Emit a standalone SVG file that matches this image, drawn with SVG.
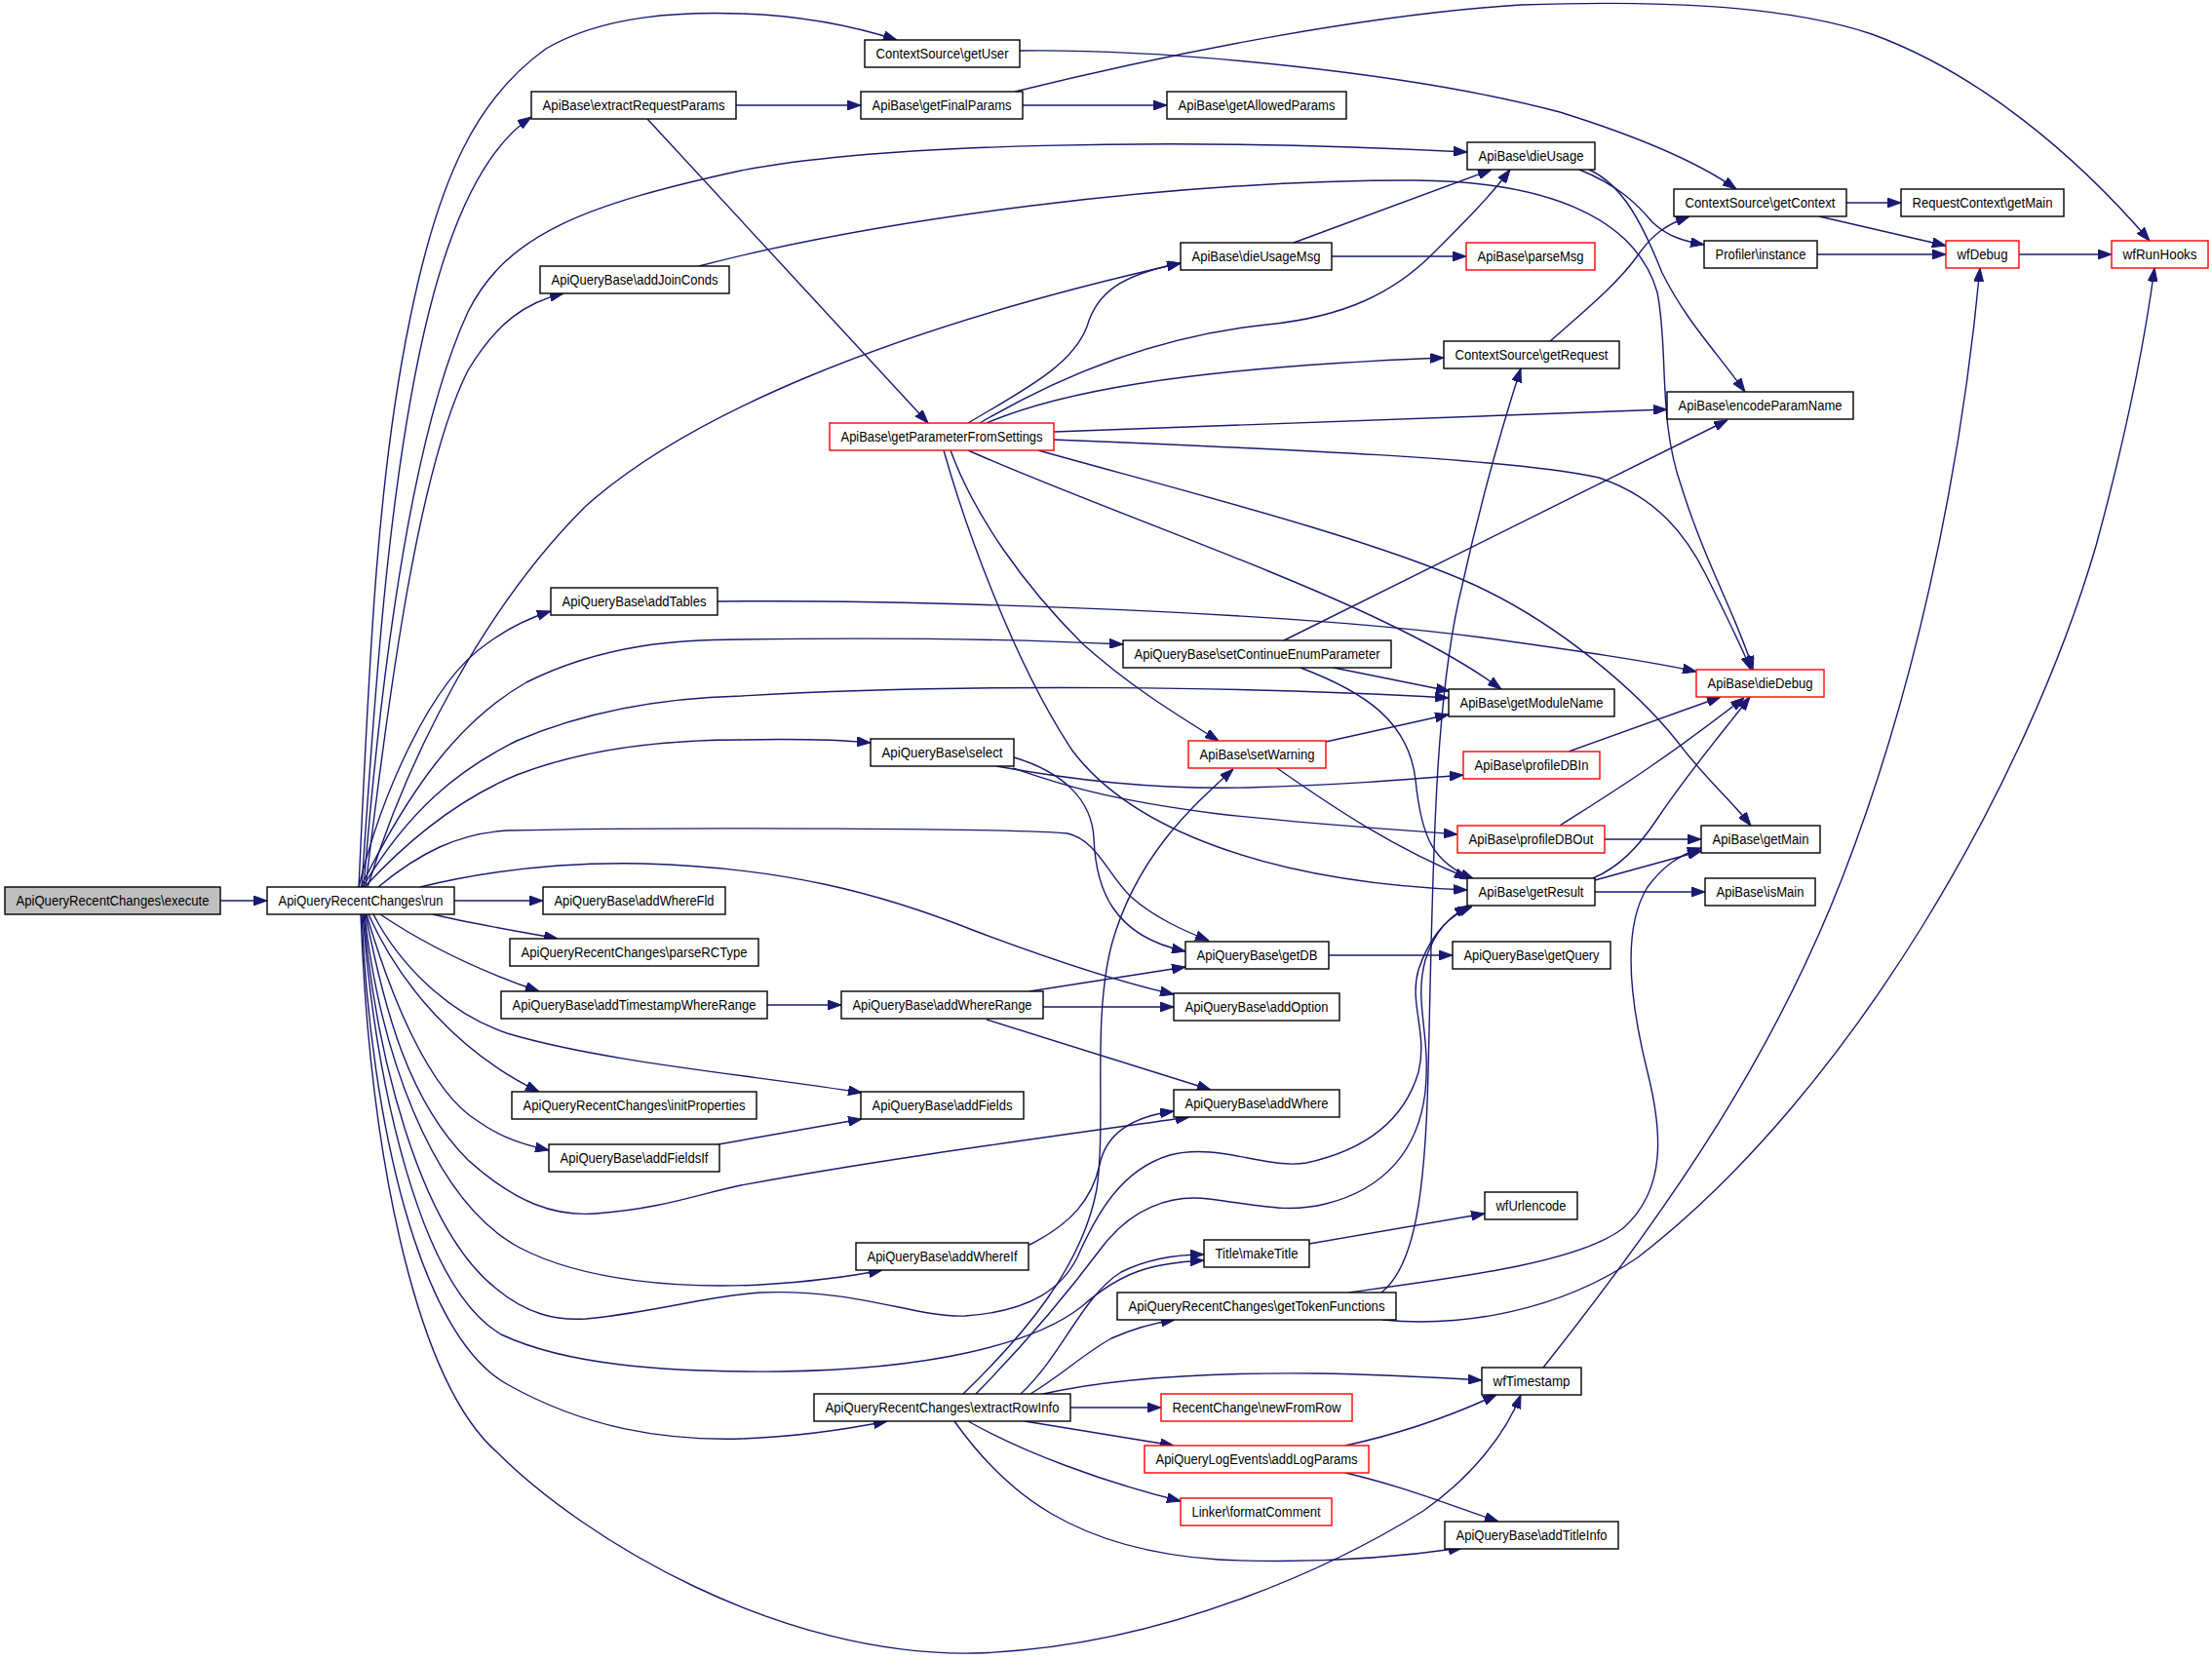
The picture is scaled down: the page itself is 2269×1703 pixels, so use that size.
<svg xmlns="http://www.w3.org/2000/svg" width="2269" height="1703" viewBox="0 0 2269 1703">
<style>
.n rect{fill:#fff;stroke:#000;stroke-width:1.4}
.n.r rect{stroke:#ff0000}
.n.g rect{fill:#bfbfbf}
.n text{font-family:"Liberation Sans",Arial,Helvetica,sans-serif;font-size:14px;fill:#000;text-anchor:middle}
#edges path{fill:none;stroke:#191970;stroke-width:1.4;marker-end:url(#ah)}
</style>
<defs>
<marker id="ah" markerUnits="userSpaceOnUse" markerWidth="14" markerHeight="10" refX="14" refY="5" orient="auto">
<path d="M0,0 L14,5 L0,10 Z" fill="#191970" stroke="#191970" stroke-width="1"/>
</marker>
</defs>
<rect width="2269" height="1703" fill="#fff"/>
<g id="edges">
<path d="M226,924 L274,924"/>
<path d="M368,910 C378,700 385,500 420,330 C450,180 490,100 560,50 C620,15 700,12 760,14 C820,16 870,25 920,41"/>
<path d="M371,910 C385,700 400,480 440,320 C465,220 500,150 545,120"/>
<path d="M373,910 C390,700 420,450 480,320 C520,240 600,210 760,175 C900,148 1200,140 1505,156"/>
<path d="M375,910 C400,700 430,480 480,380 C510,330 540,310 578,301"/>
<path d="M377,910 C420,770 500,620 600,520 C700,430 900,340 1211,270"/>
<path d="M368,910 C390,820 440,700 500,660 C520,645 540,635 565,627"/>
<path d="M370,910 C420,810 470,740 540,700 C620,660 700,656 760,656 C900,654 1050,656 1152,661"/>
<path d="M372,910 C420,830 470,790 530,760 C600,730 680,716 760,714 C1000,700 1300,705 1486,716"/>
<path d="M374,910 C420,860 470,820 530,795 C600,768 680,759 760,759 C810,758 860,759 893,762"/>
<path d="M388,910 C430,875 470,855 520,852 C700,848 1050,850 1095,855 C1125,862 1135,895 1160,920 C1185,942 1215,955 1240,965"/>
<path d="M431,910 C480,898 560,884 660,886 C800,890 900,915 1000,955 C1080,985 1150,1008 1204,1020"/>
<path d="M466,924 L557,924"/>
<path d="M444,938 C480,947 530,955 572,963"/>
<path d="M390,938 C430,965 480,992 553,1017"/>
<path d="M383,938 C410,990 460,1040 520,1060 C620,1090 780,1104 884,1121"/>
<path d="M378,938 C410,1010 470,1080 553,1120"/>
<path d="M376,938 C400,1020 440,1120 490,1150 C515,1168 540,1175 563,1180"/>
<path d="M375,938 C395,1040 420,1130 480,1190 C530,1235 570,1248 611,1245 C680,1240 720,1224 760,1216 C900,1190 1050,1170 1220,1146"/>
<path d="M373,938 C385,1080 430,1260 509,1322 C540,1348 570,1355 601,1353 C680,1345 720,1330 780,1326 C880,1322 940,1352 990,1350 C1060,1345 1090,1320 1105,1290 C1125,1245 1150,1200 1200,1185 C1250,1172 1300,1200 1340,1193 C1400,1180 1440,1150 1455,1100 C1465,1060 1445,1030 1455,995 C1465,965 1480,945 1506,929"/>
<path d="M374,938 C388,1070 440,1230 533,1280 C600,1315 700,1322 780,1318 C830,1315 870,1310 905,1303"/>
<path d="M372,938 C385,1110 430,1320 514,1369 C580,1400 680,1408 800,1407 C950,1405 1060,1380 1110,1340 C1150,1305 1180,1296 1235,1293"/>
<path d="M371,938 C380,1150 430,1370 520,1420 C600,1465 680,1478 760,1476 C820,1474 870,1466 910,1458"/>
<path d="M370,938 C380,1200 430,1420 510,1490 C600,1580 800,1700 1000,1696 C1200,1690 1380,1600 1460,1550 C1510,1515 1545,1470 1560,1431"/>
<path d="M755,108 L883,108"/>
<path d="M664,122 L952,434"/>
<path d="M1049,108 L1197,108"/>
<path d="M1041,94 C1200,55 1400,15 1560,5 C1700,0 1830,5 1920,35 C2030,75 2130,160 2205,247"/>
<path d="M1046,52 C1200,50 1450,75 1600,115 C1680,140 1740,165 1781,194"/>
<path d="M1327,249 L1530,174"/>
<path d="M1366,263 L1504,263"/>
<path d="M993,434 C1050,400 1100,375 1115,335 C1125,300 1150,282 1211,270"/>
<path d="M1005,434 C1080,390 1180,345 1300,333 C1380,325 1430,300 1470,260 C1500,230 1530,200 1549,174"/>
<path d="M1012,434 C1080,405 1200,378 1481,367"/>
<path d="M1081,443 L1710,420"/>
<path d="M1081,451 C1300,460 1550,470 1640,490 C1700,510 1730,550 1750,590 C1770,630 1785,660 1796,687"/>
<path d="M1065,462 C1200,500 1400,550 1510,599 C1600,640 1680,710 1720,760 C1750,800 1775,820 1796,847"/>
<path d="M993,462 C1100,510 1300,580 1420,638 C1470,662 1510,685 1540,707"/>
<path d="M975,462 C1000,530 1050,600 1110,660 C1160,705 1210,735 1250,760"/>
<path d="M968,462 C990,540 1040,680 1100,770 C1160,850 1300,905 1505,913"/>
<path d="M1590,350 C1630,315 1660,290 1680,262 C1695,240 1710,230 1733,222"/>
<path d="M1894,208 L1950,208"/>
<path d="M1866,222 L1996,252"/>
<path d="M1864,261 L1996,261"/>
<path d="M2071,261 L2166,261"/>
<path d="M1620,174 C1660,190 1680,210 1695,228 C1710,242 1725,247 1748,251"/>
<path d="M1630,174 C1665,190 1685,230 1705,280 C1730,330 1760,360 1790,402"/>
<path d="M717,273 C900,225 1200,185 1450,185 C1600,186 1680,230 1700,300 C1712,360 1700,430 1725,500 C1750,580 1785,640 1798,687"/>
<path d="M736,617 C900,615 1300,625 1520,654 C1620,668 1690,678 1740,689"/>
<path d="M1317,657 L1772,431"/>
<path d="M1368,685 L1487,709"/>
<path d="M1334,685 C1400,710 1445,740 1452,800 C1458,860 1470,885 1512,902"/>
<path d="M1360,761 L1486,733"/>
<path d="M1310,788 C1370,830 1430,870 1506,901"/>
<path d="M1609,771 L1765,715"/>
<path d="M1600,847 C1650,815 1700,785 1789,716"/>
<path d="M1646,861 L1745,861"/>
<path d="M1634,901 C1660,890 1680,870 1700,840 C1730,795 1760,760 1795,715"/>
<path d="M1636,903 L1745,873"/>
<path d="M1636,915 L1749,915"/>
<path d="M1022,786 C1100,800 1180,810 1280,808 C1380,805 1440,800 1501,795"/>
<path d="M1039,788 C1080,802 1130,820 1250,835 C1350,846 1420,850 1495,856"/>
<path d="M1040,777 C1090,792 1120,820 1122,860 C1124,910 1140,960 1216,976"/>
<path d="M1362,980 L1490,980"/>
<path d="M787,1031 L863,1031"/>
<path d="M1056,1017 L1216,992"/>
<path d="M1070,1033 L1204,1033"/>
<path d="M1012,1046 L1242,1118"/>
<path d="M737,1174 L884,1148"/>
<path d="M1056,1277 C1100,1255 1120,1230 1128,1195 C1135,1160 1165,1145 1204,1140"/>
<path d="M1343,1276 L1523,1245"/>
<path d="M1417,1326 C1450,1300 1462,1230 1465,1100 C1470,900 1470,720 1500,600 C1520,510 1540,440 1560,378"/>
<path d="M1383,1326 C1500,1310 1620,1295 1665,1260 C1710,1220 1705,1160 1690,1100 C1670,1020 1665,950 1690,910 C1705,890 1720,878 1745,870"/>
<path d="M1418,1354 C1500,1362 1600,1345 1680,1290 C1900,1120 2080,800 2150,560 C2180,450 2200,350 2210,275"/>
<path d="M1583,1403 C1720,1230 1820,1080 1890,900 C1960,720 2010,500 2031,275"/>
<path d="M988,1430 C1050,1370 1110,1300 1125,1220 C1135,1150 1120,1050 1140,970 C1165,880 1220,830 1265,789"/>
<path d="M1001,1430 C1060,1370 1100,1320 1130,1280 C1160,1240 1200,1225 1240,1230 C1290,1236 1320,1245 1360,1235 C1420,1220 1455,1180 1462,1120 C1468,1060 1450,1030 1462,985 C1472,955 1485,940 1510,930"/>
<path d="M1047,1430 C1090,1390 1110,1330 1150,1305 C1180,1290 1210,1287 1235,1287"/>
<path d="M1057,1430 C1090,1410 1110,1390 1140,1373 C1165,1362 1185,1357 1205,1354"/>
<path d="M1070,1430 C1150,1412 1250,1408 1350,1409 C1420,1410 1470,1413 1520,1416"/>
<path d="M1098,1444 L1191,1444"/>
<path d="M1051,1458 L1204,1483"/>
<path d="M993,1458 C1050,1490 1130,1520 1211,1540"/>
<path d="M979,1458 C1030,1530 1100,1590 1250,1600 C1350,1605 1430,1598 1500,1588"/>
<path d="M1380,1511 C1440,1525 1490,1545 1537,1561"/>
<path d="M1380,1483 C1440,1470 1490,1452 1535,1431"/>
</g>
<g id="n1" class="n g"><rect x="5" y="910" width="221" height="28"/><text x="115.5" y="929" textLength="198" lengthAdjust="spacingAndGlyphs">ApiQueryRecentChanges\execute</text></g>
<g id="n2" class="n"><rect x="274" y="910" width="192" height="28"/><text x="370" y="929" textLength="169" lengthAdjust="spacingAndGlyphs">ApiQueryRecentChanges\run</text></g>
<g id="n3" class="n"><rect x="545" y="94" width="210" height="28"/><text x="650" y="113" textLength="187" lengthAdjust="spacingAndGlyphs">ApiBase\extractRequestParams</text></g>
<g id="n4" class="n"><rect x="554" y="273" width="194" height="28"/><text x="651" y="292" textLength="171" lengthAdjust="spacingAndGlyphs">ApiQueryBase\addJoinConds</text></g>
<g id="n5" class="n"><rect x="565" y="603" width="171" height="28"/><text x="650.5" y="622" textLength="148" lengthAdjust="spacingAndGlyphs">ApiQueryBase\addTables</text></g>
<g id="n6" class="n"><rect x="557" y="910" width="187" height="28"/><text x="650.5" y="929" textLength="164" lengthAdjust="spacingAndGlyphs">ApiQueryBase\addWhereFld</text></g>
<g id="n7" class="n"><rect x="523" y="963" width="255" height="28"/><text x="650.5" y="982" textLength="232" lengthAdjust="spacingAndGlyphs">ApiQueryRecentChanges\parseRCType</text></g>
<g id="n8" class="n"><rect x="514" y="1017" width="273" height="28"/><text x="650.5" y="1036" textLength="250" lengthAdjust="spacingAndGlyphs">ApiQueryBase\addTimestampWhereRange</text></g>
<g id="n9" class="n"><rect x="525" y="1120" width="251" height="28"/><text x="650.5" y="1139" textLength="228" lengthAdjust="spacingAndGlyphs">ApiQueryRecentChanges\initProperties</text></g>
<g id="n10" class="n"><rect x="563" y="1174" width="175" height="28"/><text x="650.5" y="1193" textLength="152" lengthAdjust="spacingAndGlyphs">ApiQueryBase\addFieldsIf</text></g>
<g id="n11" class="n"><rect x="887" y="41" width="159" height="28"/><text x="966.5" y="60" textLength="136" lengthAdjust="spacingAndGlyphs">ContextSource\getUser</text></g>
<g id="n12" class="n"><rect x="883" y="94" width="166" height="28"/><text x="966" y="113" textLength="143" lengthAdjust="spacingAndGlyphs">ApiBase\getFinalParams</text></g>
<g id="n13" class="n r"><rect x="851" y="434" width="230" height="28"/><text x="966" y="453" textLength="207" lengthAdjust="spacingAndGlyphs">ApiBase\getParameterFromSettings</text></g>
<g id="n14" class="n"><rect x="893" y="758" width="147" height="28"/><text x="966.5" y="777" textLength="124" lengthAdjust="spacingAndGlyphs">ApiQueryBase\select</text></g>
<g id="n15" class="n"><rect x="863" y="1017" width="207" height="28"/><text x="966.5" y="1036" textLength="184" lengthAdjust="spacingAndGlyphs">ApiQueryBase\addWhereRange</text></g>
<g id="n16" class="n"><rect x="883" y="1120" width="167" height="28"/><text x="966.5" y="1139" textLength="144" lengthAdjust="spacingAndGlyphs">ApiQueryBase\addFields</text></g>
<g id="n17" class="n"><rect x="878" y="1275" width="177" height="28"/><text x="966.5" y="1294" textLength="154" lengthAdjust="spacingAndGlyphs">ApiQueryBase\addWhereIf</text></g>
<g id="n18" class="n"><rect x="835" y="1430" width="263" height="28"/><text x="966.5" y="1449" textLength="240" lengthAdjust="spacingAndGlyphs">ApiQueryRecentChanges\extractRowInfo</text></g>
<g id="n19" class="n"><rect x="1197" y="94" width="184" height="28"/><text x="1289" y="113" textLength="161" lengthAdjust="spacingAndGlyphs">ApiBase\getAllowedParams</text></g>
<g id="n20" class="n"><rect x="1211" y="249" width="155" height="28"/><text x="1288.5" y="268" textLength="132" lengthAdjust="spacingAndGlyphs">ApiBase\dieUsageMsg</text></g>
<g id="n21" class="n"><rect x="1152" y="657" width="275" height="28"/><text x="1289.5" y="676" textLength="252" lengthAdjust="spacingAndGlyphs">ApiQueryBase\setContinueEnumParameter</text></g>
<g id="n22" class="n r"><rect x="1219" y="760" width="141" height="28"/><text x="1289.5" y="779" textLength="118" lengthAdjust="spacingAndGlyphs">ApiBase\setWarning</text></g>
<g id="n23" class="n"><rect x="1216" y="966" width="147" height="28"/><text x="1289.5" y="985" textLength="124" lengthAdjust="spacingAndGlyphs">ApiQueryBase\getDB</text></g>
<g id="n24" class="n"><rect x="1204" y="1019" width="170" height="28"/><text x="1289" y="1038" textLength="147" lengthAdjust="spacingAndGlyphs">ApiQueryBase\addOption</text></g>
<g id="n25" class="n"><rect x="1204" y="1118" width="170" height="28"/><text x="1289" y="1137" textLength="147" lengthAdjust="spacingAndGlyphs">ApiQueryBase\addWhere</text></g>
<g id="n26" class="n"><rect x="1235" y="1272" width="108" height="28"/><text x="1289" y="1291" textLength="85" lengthAdjust="spacingAndGlyphs">Title\makeTitle</text></g>
<g id="n27" class="n"><rect x="1146" y="1326" width="286" height="28"/><text x="1289" y="1345" textLength="263" lengthAdjust="spacingAndGlyphs">ApiQueryRecentChanges\getTokenFunctions</text></g>
<g id="n28" class="n r"><rect x="1191" y="1430" width="196" height="28"/><text x="1289" y="1449" textLength="173" lengthAdjust="spacingAndGlyphs">RecentChange\newFromRow</text></g>
<g id="n29" class="n r"><rect x="1174" y="1483" width="230" height="28"/><text x="1289" y="1502" textLength="207" lengthAdjust="spacingAndGlyphs">ApiQueryLogEvents\addLogParams</text></g>
<g id="n30" class="n r"><rect x="1211" y="1537" width="155" height="28"/><text x="1288.5" y="1556" textLength="132" lengthAdjust="spacingAndGlyphs">Linker\formatComment</text></g>
<g id="n31" class="n"><rect x="1505" y="146" width="131" height="28"/><text x="1570.5" y="165" textLength="108" lengthAdjust="spacingAndGlyphs">ApiBase\dieUsage</text></g>
<g id="n32" class="n r"><rect x="1504" y="249" width="132" height="28"/><text x="1570" y="268" textLength="109" lengthAdjust="spacingAndGlyphs">ApiBase\parseMsg</text></g>
<g id="n33" class="n"><rect x="1481" y="350" width="180" height="28"/><text x="1571" y="369" textLength="157" lengthAdjust="spacingAndGlyphs">ContextSource\getRequest</text></g>
<g id="n34" class="n"><rect x="1486" y="707" width="170" height="28"/><text x="1571" y="726" textLength="147" lengthAdjust="spacingAndGlyphs">ApiBase\getModuleName</text></g>
<g id="n35" class="n r"><rect x="1501" y="771" width="140" height="28"/><text x="1571" y="790" textLength="117" lengthAdjust="spacingAndGlyphs">ApiBase\profileDBIn</text></g>
<g id="n36" class="n r"><rect x="1495" y="847" width="151" height="28"/><text x="1570.5" y="866" textLength="128" lengthAdjust="spacingAndGlyphs">ApiBase\profileDBOut</text></g>
<g id="n37" class="n"><rect x="1505" y="901" width="131" height="28"/><text x="1570.5" y="920" textLength="108" lengthAdjust="spacingAndGlyphs">ApiBase\getResult</text></g>
<g id="n38" class="n"><rect x="1490" y="966" width="162" height="28"/><text x="1571" y="985" textLength="139" lengthAdjust="spacingAndGlyphs">ApiQueryBase\getQuery</text></g>
<g id="n39" class="n"><rect x="1523" y="1223" width="95" height="28"/><text x="1570.5" y="1242" textLength="72" lengthAdjust="spacingAndGlyphs">wfUrlencode</text></g>
<g id="n40" class="n"><rect x="1520" y="1403" width="102" height="28"/><text x="1571" y="1422" textLength="79" lengthAdjust="spacingAndGlyphs">wfTimestamp</text></g>
<g id="n41" class="n"><rect x="1482" y="1561" width="178" height="28"/><text x="1571" y="1580" textLength="155" lengthAdjust="spacingAndGlyphs">ApiQueryBase\addTitleInfo</text></g>
<g id="n42" class="n"><rect x="1717" y="194" width="177" height="28"/><text x="1805.5" y="213" textLength="154" lengthAdjust="spacingAndGlyphs">ContextSource\getContext</text></g>
<g id="n43" class="n"><rect x="1748" y="247" width="116" height="28"/><text x="1806" y="266" textLength="93" lengthAdjust="spacingAndGlyphs">Profiler\instance</text></g>
<g id="n44" class="n"><rect x="1710" y="402" width="191" height="28"/><text x="1805.5" y="421" textLength="168" lengthAdjust="spacingAndGlyphs">ApiBase\encodeParamName</text></g>
<g id="n45" class="n r"><rect x="1740" y="687" width="131" height="28"/><text x="1805.5" y="706" textLength="108" lengthAdjust="spacingAndGlyphs">ApiBase\dieDebug</text></g>
<g id="n46" class="n"><rect x="1745" y="847" width="122" height="28"/><text x="1806" y="866" textLength="99" lengthAdjust="spacingAndGlyphs">ApiBase\getMain</text></g>
<g id="n47" class="n"><rect x="1749" y="901" width="113" height="28"/><text x="1805.5" y="920" textLength="90" lengthAdjust="spacingAndGlyphs">ApiBase\isMain</text></g>
<g id="n48" class="n"><rect x="1950" y="194" width="167" height="28"/><text x="2033.5" y="213" textLength="144" lengthAdjust="spacingAndGlyphs">RequestContext\getMain</text></g>
<g id="n49" class="n r"><rect x="1996" y="247" width="75" height="28"/><text x="2033.5" y="266" textLength="52" lengthAdjust="spacingAndGlyphs">wfDebug</text></g>
<g id="n50" class="n r"><rect x="2166" y="247" width="99" height="28"/><text x="2215.5" y="266" textLength="76" lengthAdjust="spacingAndGlyphs">wfRunHooks</text></g>
</svg>
